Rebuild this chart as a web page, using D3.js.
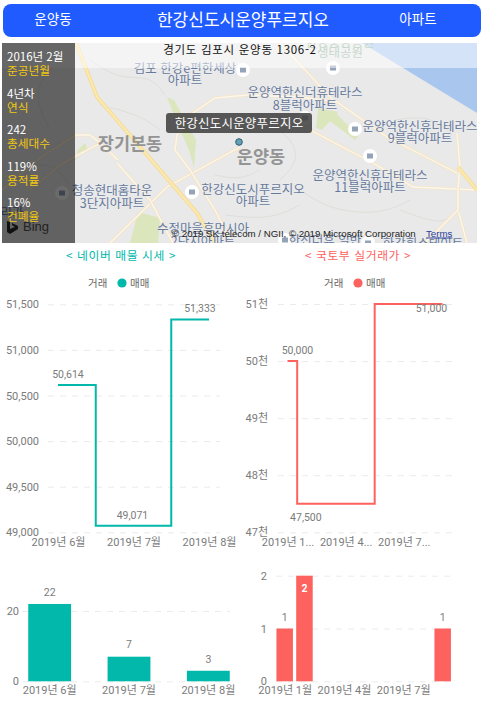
<!DOCTYPE html>
<html lang="ko"><head><meta charset="utf-8">
<script src="https://cdn.jsdelivr.net/npm/d3@7/dist/d3.min.js"></script>
<style>
html,body{margin:0;padding:0;background:#fff;overflow:hidden}
svg{display:block}
text{font-family:"Noto Sans CJK KR","Noto Sans",sans-serif}
.num text,text.num{font-family:Roboto,"Noto Sans CJK KR",sans-serif}
</style></head><body>
<svg id="c" width="483" height="707"></svg>
<script>
// ---- data ----
const naverMonths = ["2019년 6월","2019년 7월","2019년 8월"];
const naverPrices = [50614,49071,51333];
const naverCounts = [22,7,3];
const molitPriceMonths = [1,2,9];
const molitPrices = [50000,47500,51000];
const molitCountMonths = [1,2,9];
const molitCounts = [1,2,1];
const naverPriceTicks = [49000,49500,50000,50500,51000,51500];
const molitPriceTicks = [47000,48000,49000,50000,51000];
const molitMonthTicks = [1,4,7];
const molitLineTickLabels = {1:"2019년 1...",4:"2019년 4...",7:"2019년 7..."};
const molitBarTickLabels = {1:"2019년 1월",4:"2019년 4월",7:"2019년 7월"};
const infoValues = ["2016년 2월","4년차","242","119%","16%"];
const infoNames = ["준공년월","연식","총세대수","용적률","건폐율"];

// ---- colours ----
const TEAL="#01b8aa", CORAL="#fd625e", GREY="#7b7b7b", GOLD="#f2c811";
const svg=d3.select("#c");
const line=d3.line();

// ---- header ----
svg.append("rect").attr("x",3).attr("y",4).attr("width",478).attr("height",33).attr("rx",8).attr("fill","#1f5bff");
[["운양동",53,13.5],["한강신도시운양푸르지오",243,17],["아파트",418,13.5]].forEach(([t,x,s])=>{
  svg.append("text").text(t).attr("x",x).attr("y",s>14?25.5:24).attr("text-anchor","middle").attr("fill","#fff").attr("font-size",s);
});

// ---- map backdrop ----
const defs=svg.append("defs");
defs.append("clipPath").attr("id","mapclip").append("rect").attr("x",2).attr("y",43).attr("width",475).attr("height",200);
const map=svg.append("g").attr("clip-path","url(#mapclip)");
map.append("rect").attr("x",2).attr("y",43).attr("width",475).attr("height",200).attr("fill","#e9e9e9");
map.append("path").attr("d",line([[362,43],[477,113],[477,43]])+"Z").attr("fill","#a9c6ef");
const parks=[[[167,97],[174,100],[196,140],[194,168],[189,150],[178,125]],[[318,108],[338,112],[322,130],[316,128]],
  [[138,212],[160,218],[158,243],[130,243]],[[78,150],[85,143],[88,150],[75,160]],[[335,112],[358,136],[355,140],[326,118]]];
parks.forEach(p=>map.append("path").attr("d",line(p)+"Z").attr("fill","#dbe6bd"));
const faint=[[[90,60],[120,80],[150,75],[165,95]],[[100,105],[140,115],[160,130]],[[260,120],[290,135],[300,160],[280,180]],
  [[215,175],[240,180],[260,170]],[[300,190],[330,210],[380,215],[410,200]],[[400,210],[440,225],[452,215]],[[225,215],[270,220],[300,205]],
  [[60,60],[30,90],[50,130]],[[20,170],[50,160],[70,185]],[[395,120],[430,115],[452,135]]];
faint.forEach(p=>map.append("path").attr("d",d3.line().curve(d3.curveBasis)(p)).attr("fill","none").attr("stroke","#dedeD9").attr("stroke-width",1));
const roads=[
 [[2,190],[40,158],[76,135],[90,135],[100,143],[118,160]],
 [[240,147],[167,187],[110,243]],
 [[248,95],[215,98],[190,115],[177,135],[175,150],[190,170],[215,210],[232,243]],
 [[248,95],[300,97],[337,102],[387,137],[457,173]],
 [[310,130],[373,163],[413,187],[477,190]],
 [[280,43],[333,100]],
 [[457,133],[460,167],[458,190],[458,210],[467,243]],
 [[458,210],[425,243]],
 [[117,163],[150,200],[173,243]],
 [[100,143],[60,165],[30,190]]
];
roads.forEach(r=>{
  const d=d3.line()(r);
  map.append("path").attr("d",d).attr("fill","none").attr("stroke","#f4e5c9").attr("stroke-width",3.2);
  map.append("path").attr("d",d).attr("fill","none").attr("stroke","#fbf7ee").attr("stroke-width",1.4);
});
[[[76,43],[97,97],[197,213],[215,243]],[[458,167],[477,190]]].forEach(r=>{
  const d=d3.line()(r);
  map.append("path").attr("d",d).attr("fill","none").attr("stroke","#f5dd98").attr("stroke-width",4);
  map.append("path").attr("d",d).attr("fill","none").attr("stroke","#fce9b0").attr("stroke-width",2);
});
[[243,70],[333,68],[355,129],[370,156],[192,192],[62,193],[305,118],[285,240],[368,243]].forEach(([x,y])=>{
  map.append("circle").attr("cx",x).attr("cy",y).attr("r",7).attr("fill","#fff");
  map.append("rect").attr("x",x-3).attr("y",y-2.5).attr("width",6).attr("height",5).attr("fill","#94a3b8");
});
const poi=[["김포 한강e편한세상",185,68],["아파트",185,80],["운양역한신더휴테라스",305,92],["8블럭아파트",305,105],
 ["운양역한신휴더테라스",420,126],["9블럭아파트",420,138],["운양역한신휴더테라스",370,175],["11블럭아파트",370,187],
 ["한강신도시푸르지오",253,189],["아파트",253,201],["청송현대홈타운",112,190],["3단지아파트",112,203],
 ["수정마을휴먼시아",203,228],["2단지아파트",203,241],["한신더휴 일반",325,240],["한강힐스테이트",423,243],["리가",12,212]];
poi.forEach(([t,x,y])=>map.append("text").text(t).attr("x",x).attr("y",y).attr("dy",".36em").attr("text-anchor","middle")
  .attr("font-size",12.5).attr("fill","#67799a").attr("stroke","#eef0f3").attr("stroke-width",.6).attr("paint-order","stroke"));
[["장기본동",130,144],["운양동",261,157]].forEach(([t,x,y])=>map.append("text").text(t).attr("x",x).attr("y",y).attr("dy",".36em")
  .attr("text-anchor","middle").attr("font-size",17.5).attr("font-weight",700).attr("fill","#949494"));
map.append("text").text("생태공원").attr("x",340).attr("y",52).attr("dy",".36em").attr("text-anchor","middle").attr("font-size",12.5).attr("fill","#8fb09a");
map.append("text").text("한강중앙공원").attr("x",340).attr("y",42).attr("dy",".36em").attr("text-anchor","middle").attr("font-size",12.5).attr("fill","#8fb09a");
// translucent band and address
map.append("rect").attr("x",2).attr("y",43).attr("width",475).attr("height",25).attr("fill","#fff").attr("opacity",.5);
svg.append("text").text("경기도 김포시 운양동 1306-2").attr("x",240).attr("y",50).attr("dy",".36em").attr("text-anchor","middle")
  .attr("font-size",11.5).attr("letter-spacing",.7).attr("fill","#111");
// tooltip and marker
svg.append("rect").attr("x",166).attr("y",113).attr("width",146).attr("height",20).attr("rx",3).attr("fill","#3c3c3c").attr("opacity",.85);
svg.append("text").text("한강신도시운양푸르지오").attr("x",239).attr("y",123).attr("dy",".36em").attr("text-anchor","middle").attr("font-size",12.5).attr("letter-spacing",.2).attr("fill","#fff");
svg.append("circle").attr("cx",239).attr("cy",142).attr("r",3.3).attr("fill","#63a1b8").attr("stroke","#2e5a6e").attr("stroke-width",1);
// attribution
svg.append("text").text("© 2019 SK telecom / NGII, © 2019 Microsoft Corporation").attr("x",172).attr("y",236.5).style("font-family","Liberation Sans").attr("font-size",9.7).attr("fill","#222");
svg.append("text").text("Terms").attr("x",426).attr("y",236.5).style("font-family","Liberation Sans").attr("font-size",9.7).attr("fill","#2a3f9c").attr("text-decoration","underline");
// left panel
svg.append("rect").attr("x",2).attr("y",43).attr("width",73).attr("height",200).attr("fill","#000").attr("opacity",.58);
const infoY=d3.scaleLinear().domain([0,4]).range([57,203]);
infoValues.forEach((v,i)=>{
  svg.append("text").text(v).attr("x",7).attr("y",infoY(i)).attr("dy",".36em").attr("font-size",11.5).attr("fill","#fff");
  svg.append("text").text(infoNames[i]).attr("x",7).attr("y",infoY(i)+14).attr("dy",".36em").attr("font-size",11.7).attr("fill",GOLD);
});
// Bing mark
svg.append("path").attr("d",line([[7,221],[10,222],[10,229],[15,227],[12,225],[12,223],[18,226],[18,229],[10,234],[7,232]])+"Z").attr("fill","#111");
svg.append("text").text("Bing").attr("x",23).attr("y",226).attr("dy",".36em").attr("font-size",13).attr("fill","#222").style("font-family","Liberation Sans");

// ---- titles and legends ----
[["< 네이버 매물 시세 >",121,TEAL],["< 국토부 실거래가 >",358,CORAL]].forEach(([t,x,c])=>{
  svg.append("text").text(t).attr("x",x).attr("y",256).attr("dy",".36em").attr("text-anchor","middle").attr("font-size",11.8).attr("letter-spacing",.6).attr("fill",c);
});
[[88,122,130,TEAL],[324,358,366,CORAL]].forEach(([a,b,c,col])=>{
  svg.append("text").text("거래").attr("x",a).attr("y",283).attr("dy",".36em").attr("font-size",10.5).attr("fill","#666");
  svg.append("circle").attr("cx",b).attr("cy",283).attr("r",4.6).attr("fill",col);
  svg.append("text").text("매매").attr("x",c).attr("y",283).attr("dy",".36em").attr("font-size",10.5).attr("fill","#666");
});

// ---- axis helpers ----
function styleAxis(g){
  g.select(".domain").remove();
  g.selectAll("text").attr("fill",GREY).attr("font-size",11);
  g.classed("num",true);
}
function yAxis(scale,ticks,x,gridEnd,pad,fmt){
  const g=svg.append("g").attr("transform",`translate(${x},0)`)
    .call(d3.axisLeft(scale).tickValues(ticks).tickSize(-(gridEnd-x)).tickPadding(pad).tickFormat(fmt));
  styleAxis(g);
  g.selectAll("line").attr("stroke","#ebebeb").attr("stroke-dasharray","6,6");
  return g;
}
function xAxis(scale,y,pad,fmt,vals){
  const ax=d3.axisBottom(scale).tickSize(0).tickPadding(pad);
  if(fmt)ax.tickFormat(fmt);
  if(vals)ax.tickValues(vals);
  const g=svg.append("g").attr("transform",`translate(0,${y})`).call(ax);
  styleAxis(g);
  return g;
}
function labels(items){
  svg.append("g").classed("num",true).selectAll("text").data(items).join("text")
    .text(d=>d.t).attr("x",d=>d.x).attr("y",d=>d.y).attr("dy",".36em").attr("text-anchor","middle")
    .attr("font-size",d=>d.s||10.5).attr("font-weight",d=>d.b?700:400).attr("fill",d=>d.c||GREY);
}
const fmtComma=d3.format(",");

// ---- naver line ----
const nx=d3.scalePoint().domain(naverMonths).range([58,209]);
const ny=d3.scaleLinear().domain([49000,51500]).range([532.3,304.3]);
yAxis(ny,naverPriceTicks,48,220,9,fmtComma);
xAxis(nx,532.3,5.5);
const stepLine=d3.line().curve(d3.curveStep);
svg.append("path").attr("d",stepLine(naverMonths.map((m,i)=>[nx(m),ny(naverPrices[i])])))
  .attr("fill","none").attr("stroke",TEAL).attr("stroke-width",2);
const nDx=[10,-1,-9], nDy=[-11,-11,-11];
labels(naverPrices.map((v,i)=>({t:fmtComma(v),x:nx(naverMonths[i])+nDx[i],y:ny(v)+nDy[i]})));

// ---- molit line ----
const mx=d3.scaleLinear().domain([1,9]).range([287.5,442.5]);
const my=d3.scaleLinear().domain([47000,51000]).range([532.3,304]);
yAxis(my,molitPriceTicks,278,452,10,d=>d/1000+"천");
xAxis(mx,532.3,5.5,d=>molitLineTickLabels[d],molitMonthTicks);
svg.append("path").attr("d",stepLine(molitPriceMonths.map((m,i)=>[mx(m),my(molitPrices[i])])))
  .attr("fill","none").attr("stroke",CORAL).attr("stroke-width",2);
const mDx=[10,-1,-11], mDy=[-11,13,4];
labels(molitPrices.map((v,i)=>({t:fmtComma(v),x:mx(molitPriceMonths[i])+mDx[i],y:my(v)+mDy[i]})));

// ---- naver bars ----
const bx=d3.scaleBand().domain(naverMonths).range([10,248]).paddingInner(.46).paddingOuter(.23);
const by=d3.scaleLinear().domain([0,20]).range([681.3,611]);
yAxis(by,[0,20],23,230,4,d=>d);
xAxis(bx,681.3,5,null);
svg.append("g").selectAll("rect").data(naverCounts).join("rect")
  .attr("x",(d,i)=>bx(naverMonths[i])).attr("width",bx.bandwidth())
  .attr("y",d=>by(d)).attr("height",d=>by(0)-by(d)).attr("fill",TEAL);
labels(naverCounts.map((v,i)=>({t:v,x:bx(naverMonths[i])+bx.bandwidth()/2,y:by(v)-12})));

// ---- molit bars ----
const cx=d3.scaleLinear().domain([1,9]).range([284.7,442.7]);
const cy=d3.scaleLinear().domain([0,2]).range([681.3,575.7]);
const bw=16.5;
yAxis(cy,[0,1,2],276,451,9,d=>d);
xAxis(cx,681.3,5,d=>molitBarTickLabels[d],molitMonthTicks);
svg.append("g").selectAll("rect").data(molitCounts).join("rect")
  .attr("x",(d,i)=>cx(molitCountMonths[i])-bw/2).attr("width",bw)
  .attr("y",d=>cy(d)).attr("height",d=>cy(0)-cy(d)).attr("fill",CORAL);
labels(molitCounts.map((v,i)=>v===2
  ?{t:v,x:cx(molitCountMonths[i]),y:cy(v)+12.5,c:"#fff",b:true}
  :{t:v,x:cx(molitCountMonths[i]),y:cy(v)-11}));
</script>
</body></html>
